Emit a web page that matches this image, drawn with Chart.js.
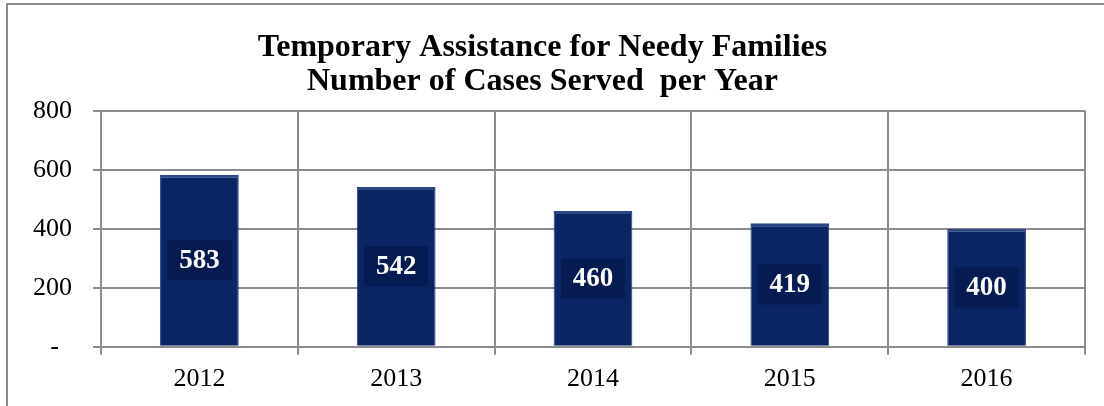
<!DOCTYPE html>
<html>
<head>
<meta charset="utf-8">
<script src="https://cdn.jsdelivr.net/npm/chart.js@4/dist/chart.umd.min.js"></script>
<style>
  html, body { margin: 0; padding: 0; background: #fff; }
  #wrap { position: relative; width: 1104px; height: 406px; overflow: hidden; }
  #frame { position: absolute; left: 6px; top: 3px; width: 1120px; height: 420px; border: 2px solid #8c8c8c; box-sizing: border-box; }
  canvas { position: absolute; left: 0; top: 0; }
</style>
</head>
<body>
<div id="wrap">
  <div id="frame"></div>
  <canvas id="myChart" width="1104" height="406"></canvas>
</div>
<script>
const years = ['2012', '2013', '2014', '2015', '2016'];
const cases = [583, 542, 460, 419, 400];
const yTicks = [0, 200, 400, 600, 800];
const titleLines = ['Temporary Assistance for Needy Families', 'Number of Cases Served  per Year'];

const serif = "'Liberation Serif', 'Times New Roman', serif";

// dark box + white value in the middle of every bar
const valueBoxes = {
  id: 'valueBoxes',
  afterDatasetsDraw(chart) {
    const c = chart.ctx;
    const meta = chart.getDatasetMeta(0);
    c.save();
    meta.data.forEach((bar, i) => {
      const cy = (bar.y + bar.base) / 2;
      c.fillStyle = '#061b52';
      c.fillRect(bar.x - 32, cy - 20, 64, 40);
      c.fillStyle = '#ffffff';
      c.font = 'bold 27px ' + serif;
      c.textAlign = 'center';
      c.textBaseline = 'middle';
      c.fillText(String(cases[i]), bar.x, cy + 1);
    });
    c.restore();
  }
};

const ctx = document.getElementById('myChart');

new Chart(ctx, {
  type: 'bar',
  data: {
    labels: years,
    datasets: [{
      data: cases,
      backgroundColor: '#0b2463',
      borderColor: '#2a4786',
      borderWidth: { top: 3, left: 1, right: 1, bottom: 0 },
      borderSkipped: false,
      categoryPercentage: 1,
      barPercentage: 0.4
    }]
  },
  plugins: [valueBoxes],
  options: {
    responsive: false,
    animation: false,
    layout: { padding: { left: 0, right: 19, bottom: 2 } },
    plugins: {
      legend: { display: false },
      tooltip: { enabled: false },
      title: {
        display: true,
        text: titleLines,
        color: '#000',
        font: { family: serif, size: 32, weight: 'bold', lineHeight: 1.06 },
        padding: { top: 31, bottom: 12 }
      }
    },
    scales: {
      x: {
        offset: true,
        grid: { offset: true, color: '#8c8c8c', lineWidth: 2, tickLength: 8 },
        border: { color: '#8c8c8c', width: 2 },
        ticks: { color: '#000', font: { family: serif, size: 26 }, padding: 9 }
      },
      y: {
        min: 0,
        max: 800,
        afterBuildTicks: s => { s.ticks = yTicks.map(v => ({ value: v })); },
        afterFit: s => { s.width = 101; },
        grid: { color: '#8c8c8c', lineWidth: 2, tickLength: 8 },
        border: { color: '#8c8c8c', width: 2 },
        ticks: {
          color: '#000',
          font: { family: serif, size: 26 },
          padding: 21,
          callback: v => v === 0 ? '-  ' : String(v)
        }
      }
    }
  }
});
</script>
</body>
</html>
